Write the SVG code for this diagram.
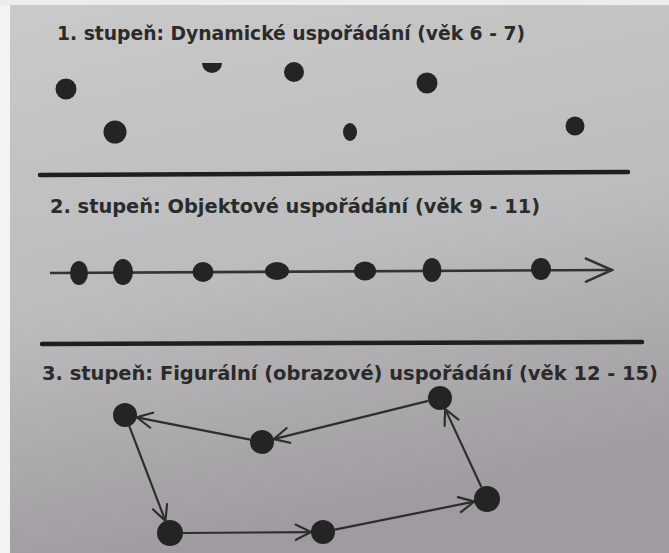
<svg xmlns="http://www.w3.org/2000/svg" width="669" height="553" viewBox="0 0 669 553">
  <defs>
    <linearGradient id="bg" x1="0" y1="0" x2="0.25" y2="1">
      <stop offset="0" stop-color="#cacaca"/>
      <stop offset="0.55" stop-color="#bcbbbd"/>
      <stop offset="1" stop-color="#9f9ba0"/>
    </linearGradient>
    <marker id="chev" viewBox="-20 -10 22 20" refX="0" refY="0" markerWidth="22" markerHeight="20" markerUnits="userSpaceOnUse" orient="auto">
      <path d="M-16,-8 L0,0 L-16,8" fill="none" stroke="#2e2e2e" stroke-width="2.2"/>
    </marker>
    <marker id="bigchev" viewBox="-30 -14 32 28" refX="0" refY="0" markerWidth="32" markerHeight="28" markerUnits="userSpaceOnUse" orient="auto">
      <path d="M-27,-12 L0,0 L-27,12" fill="none" stroke="#333" stroke-width="2.6"/>
    </marker>
  </defs>
  <style>
    .title { font-family: "DejaVu Sans Condensed", "DejaVu Sans", "Liberation Sans", sans-serif; font-weight: bold; fill: #2b2b2b; }
    .dot { fill: #242424; }
    .rule { stroke: #1f1f1f; stroke-width: 4.5; stroke-linecap: round; }
    .edge { stroke: #2e2e2e; stroke-width: 2.2; fill: none; }
  </style>

  <rect x="0" y="0" width="669" height="553" fill="url(#bg)"/>
  <rect x="0" y="0" width="10" height="553" fill="#f3f3f3"/>
  <rect x="0" y="0" width="669" height="5" fill="#ececec"/>

  <!-- Section 1 -->
  <g id="section1">
    <text class="title" x="57" y="40" font-size="19" textLength="468" lengthAdjust="spacingAndGlyphs">1. stupeň: Dynamické uspořádání (věk 6 - 7)</text>
    <g id="s1-dot1"><circle class="dot" cx="66" cy="89" r="10.5"/></g>
    <g id="s1-dot2"><circle class="dot" cx="115" cy="132" r="11.5"/></g>
    <g id="s1-dot3"><path class="dot" d="M202,63 L222,63 A10,10 0 0 1 212,73 A10,10 0 0 1 202,63 Z"/></g>
    <g id="s1-dot4"><circle class="dot" cx="294" cy="72" r="10"/></g>
    <g id="s1-dot5"><ellipse class="dot" cx="350" cy="132" rx="7" ry="9"/></g>
    <g id="s1-dot6"><circle class="dot" cx="427" cy="83" r="10.5"/></g>
    <g id="s1-dot7"><circle class="dot" cx="575" cy="126" r="9.5"/></g>
  </g>

  <line class="rule" x1="40" y1="175" x2="628" y2="172"/>

  <!-- Section 2 -->
  <g id="section2">
    <text class="title" x="50" y="213" font-size="19" textLength="490" lengthAdjust="spacingAndGlyphs">2. stupeň: Objektové uspořádání (věk 9 - 11)</text>
    <g id="s2-connectors">
      <line x1="50" y1="273" x2="612" y2="270" stroke="#333" stroke-width="2.6" marker-end="url(#bigchev)"/>
    </g>
    <g id="s2-dot1"><ellipse class="dot" cx="79" cy="273" rx="9" ry="12"/></g>
    <g id="s2-dot2"><ellipse class="dot" cx="123" cy="272" rx="10" ry="13"/></g>
    <g id="s2-dot3"><ellipse class="dot" cx="203" cy="272" rx="10.5" ry="10"/></g>
    <g id="s2-dot4"><ellipse class="dot" cx="277" cy="271" rx="12" ry="9"/></g>
    <g id="s2-dot5"><ellipse class="dot" cx="365" cy="271" rx="11" ry="9.5"/></g>
    <g id="s2-dot6"><ellipse class="dot" cx="432" cy="270" rx="9.5" ry="12"/></g>
    <g id="s2-dot7"><ellipse class="dot" cx="541" cy="269" rx="10" ry="11"/></g>
  </g>

  <line class="rule" x1="42" y1="344" x2="642" y2="342"/>

  <!-- Section 3 -->
  <text class="title" x="42" y="380" font-size="19.5" textLength="616" lengthAdjust="spacingAndGlyphs">3. stupeň: Figurální (obrazové) uspořádání (věk 12 - 15)</text>

  <g id="connectors">
    <line class="edge" x1="428.3" y1="400.9" x2="273.7" y2="439.1" marker-end="url(#chev)"/>
    <line class="edge" x1="250.2" y1="439.7" x2="136.8" y2="417.3" marker-end="url(#chev)"/>
    <line class="edge" x1="129.3" y1="426.2" x2="165.4" y2="520.9" marker-end="url(#chev)"/>
    <line class="edge" x1="183" y1="533" x2="311" y2="532.1" marker-end="url(#chev)"/>
    <line class="edge" x1="334.8" y1="529.6" x2="474.3" y2="501.6" marker-end="url(#chev)"/>
    <line class="edge" x1="481.5" y1="487.2" x2="445.1" y2="408.9" marker-end="url(#chev)"/>
  </g>

  <g id="nodeA"><circle class="dot" cx="125" cy="415" r="12"/></g>
  <g id="nodeB"><circle class="dot" cx="262" cy="442" r="12"/></g>
  <g id="nodeC"><circle class="dot" cx="440" cy="398" r="12"/></g>
  <g id="nodeD"><circle class="dot" cx="487" cy="499" r="13"/></g>
  <g id="nodeE"><circle class="dot" cx="323" cy="532" r="12"/></g>
  <g id="nodeF"><circle class="dot" cx="170" cy="533" r="13"/></g>
</svg>
